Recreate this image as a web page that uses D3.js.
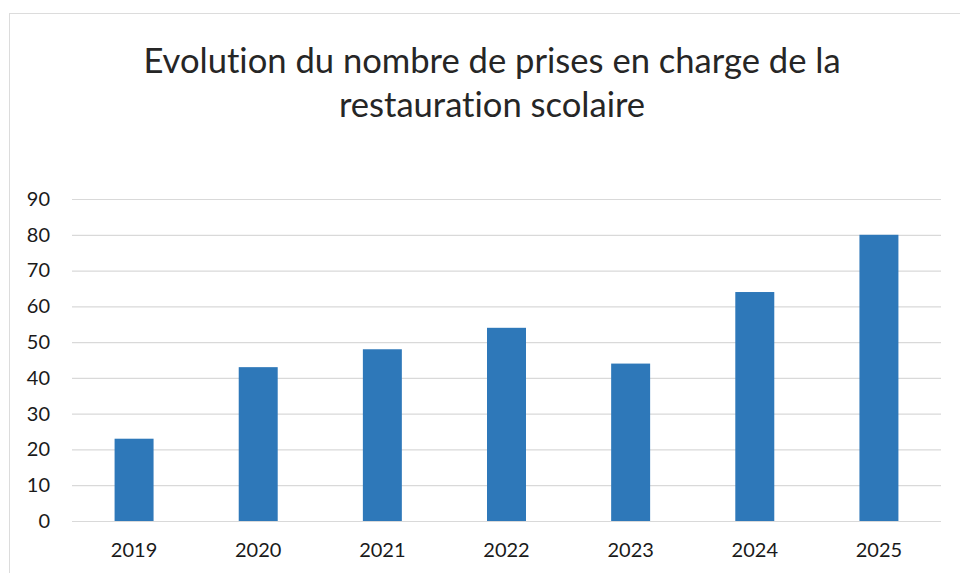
<!DOCTYPE html>
<html>
<head>
<meta charset="utf-8">
<script src="https://cdn.jsdelivr.net/npm/d3@7"></script>
<style>
  html, body { margin: 0; padding: 0; background: #fff; }
  svg { display: block; font-family: Lato, "Open Sans", sans-serif; font-variant-ligatures: none; }
</style>
</head>
<body>
<div id="chart"></div>
<script>
// data
var years = ["2019", "2020", "2021", "2022", "2023", "2024", "2025"];
var values = [23, 43, 48, 54, 44, 64, 80];
var yTicks = [0, 10, 20, 30, 40, 50, 60, 70, 80, 90];
var titleLines = ["Evolution du nombre de prises en charge de la", "restauration scolaire"];

var W = 960, H = 573;
var margin = { top: 199, right: 17, bottom: 52, left: 72 };
var width = W - margin.left - margin.right;
var height = H - margin.top - margin.bottom;

var svg = d3.select("#chart").append("svg")
    .attr("width", W)
    .attr("height", H);

// faint chart-area border
svg.append("rect")
    .attr("x", 9.5).attr("y", 13.5)
    .attr("width", W).attr("height", H)
    .attr("fill", "none")
    .attr("stroke", "#dcdcdc");

svg.append("g").selectAll("text")
    .data(titleLines)
    .enter().append("text")
    .attr("x", 492)
    .attr("y", function (d, i) { return 73 + i * 44; })
    .attr("text-anchor", "middle")
    .attr("font-size", 34.6)
    .attr("fill", "#262626")
    .text(function (d) { return d; });

var g = svg.append("g")
    .attr("transform", "translate(" + margin.left + "," + margin.top + ")");

var x = d3.scaleBand().domain(years).range([0, width - 2])
    .paddingInner(0.686).paddingOuter(0.343);
var y = d3.scaleLinear().domain([0, 90]).range([height, 0]);

// gridlines
g.append("g")
    .attr("class", "grid")
    .call(d3.axisLeft(y).tickValues(yTicks).tickSize(-width + 2).tickFormat(""))
    .call(function (s) { s.select(".domain").remove(); })
    .selectAll("line")
    .attr("stroke", "#d9d9d9")
    .attr("stroke-width", 1.2);

// y labels
g.append("g")
    .attr("class", "axis axis--y")
    .call(d3.axisLeft(y).tickValues(yTicks).tickSize(0).tickPadding(22))
    .call(function (s) { s.select(".domain").remove(); })
    .selectAll("text")
    .attr("font-family", "Lato, 'Open Sans', sans-serif")
    .attr("font-size", 20)
    .attr("fill", "#1a1a1a");

g.selectAll(".bar")
    .data(values)
    .enter().append("rect")
    .attr("class", "bar")
    .attr("x", function (d, i) { return x(years[i]); })
    .attr("y", function (d) { return y(d); })
    .attr("width", x.bandwidth())
    .attr("height", function (d) { return height - y(d); })
    .attr("fill", "#2e78b9");

// x labels
g.append("g")
    .attr("class", "axis axis--x")
    .attr("transform", "translate(0," + height + ")")
    .call(d3.axisBottom(x).tickSize(0).tickPadding(22))
    .call(function (s) { s.select(".domain").remove(); })
    .selectAll("text")
    .attr("font-family", "Lato, 'Open Sans', sans-serif")
    .attr("font-size", 20)
    .attr("fill", "#1a1a1a");
</script>
</body>
</html>
